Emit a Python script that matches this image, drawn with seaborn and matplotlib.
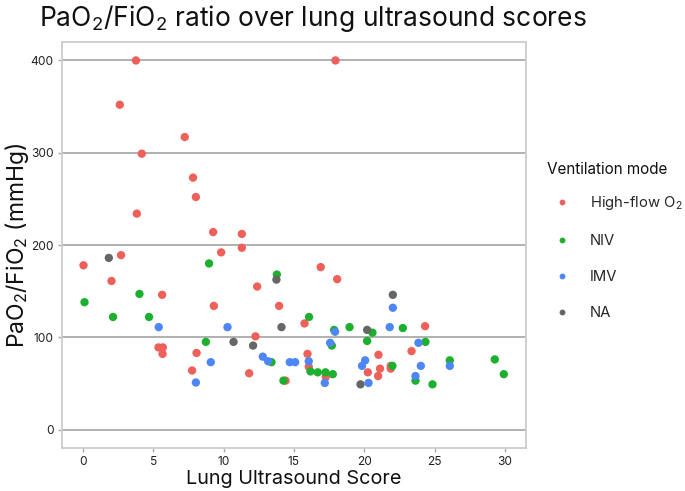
import matplotlib
matplotlib.use("Agg")
import matplotlib.pyplot as plt
from matplotlib.lines import Line2D
import seaborn as sns
import pandas as pd

# ---- data ----
hf_x = [3.76, 2.61, 7.23, 4.17, 7.82, 17.95, 8.02, 3.82, 9.25, 9.82, 2.70, 0.03, 2.02, 5.62,
        9.30, 11.29, 11.29, 16.9, 18.07, 12.38, 13.94, 5.36, 5.67, 5.65, 8.07, 7.75, 15.75,
        12.26, 15.96, 16.05, 17.26, 11.81, 14.4, 20.25, 24.32, 23.36, 21.01, 21.12, 20.98,
        21.88, 21.88]
hf_y = [400, 352, 317, 299, 273, 400, 252, 234, 214, 192, 189, 178, 161, 146,
        134, 212, 197, 176, 163, 155, 134, 89, 89, 82, 83, 64, 115,
        101, 82, 68, 57, 61, 53, 62, 112, 85, 81, 66, 58,
        69, 66]

niv_x = [8.96, 4.01, 0.1, 13.78, 2.13, 4.69, 8.73, 16.07, 18.95, 17.85, 17.69, 20.2, 13.4,
         16.17, 16.69, 17.24, 17.76, 14.25, 22.74, 20.58, 24.35, 22.0, 23.64, 24.85, 26.08,
         29.28, 29.92]
niv_y = [180, 147, 138, 168, 122, 122, 95, 122, 111, 108, 91, 96, 73,
         63, 62, 62, 60, 53, 110, 105, 95, 69, 53, 49, 75,
         76, 60]

imv_x = [22.03, 5.38, 10.27, 9.08, 8.02, 17.92, 17.57, 12.78, 13.16, 14.7, 15.08, 16.05,
         17.19, 20.06, 19.84, 20.3, 21.81, 23.85, 24.02, 23.64, 26.08]
imv_y = [132, 111, 111, 73, 51, 106, 94, 79, 74, 73, 73, 74,
         50.5, 75, 69, 50.5, 111, 94, 69, 58, 69]

na_x = [1.83, 13.75, 22.03, 14.11, 20.2, 10.7, 12.09, 19.73]
na_y = [186, 162.5, 146, 111, 108, 95, 91, 49]

modes = ["High-flow O$_2$", "NIV", "IMV", "NA"]
colors = ["#F0605A", "#1DB02E", "#4D86F5", "#666666"]

x_ticks = [0, 5, 10, 15, 20, 25, 30]
y_ticks = [0, 100, 200, 300, 400]

df = pd.DataFrame({
    "lus": hf_x + niv_x + imv_x + na_x,
    "pf": hf_y + niv_y + imv_y + na_y,
    "mode": [modes[0]] * len(hf_x) + [modes[1]] * len(niv_x)
            + [modes[2]] * len(imv_x) + [modes[3]] * len(na_x),
})

sns.set_theme(style="white")
plt.rcParams["font.family"] = ["Inter", "DejaVu Sans"]
plt.rcParams["mathtext.fontset"] = "custom"
plt.rcParams["mathtext.rm"] = "Inter"
plt.rcParams["mathtext.it"] = "Inter"
plt.rcParams["mathtext.bf"] = "Inter"

fig = plt.figure(figsize=(6.85, 4.91), dpi=100)
ax = fig.add_axes([62 / 685, 1 - 448 / 491, (526 - 62) / 685, (448 - 42) / 491])

palette = dict(zip(modes, colors))
sns.scatterplot(data=df, x="lus", y="pf", hue="mode", hue_order=modes, palette=palette,
                s=36, linewidth=0, edgecolor="none", legend=False, ax=ax, zorder=3)

ax.set_xlim(-1.5, 31.5)
ax.set_ylim(-20, 420)
ax.set_xticks(x_ticks)
ax.set_yticks(y_ticks)
ax.yaxis.grid(True, color="#AAAAAA", linewidth=1.3, zorder=0)
ax.xaxis.grid(False)
ax.set_axisbelow(True)
for sp in ax.spines.values():
    sp.set_color("#CCCCCC")
    sp.set_linewidth(1.3)
ax.tick_params(axis="both", which="major", length=3, width=1, color="#AAAAAA",
               labelsize=8.6, labelcolor="#222222", pad=3)
ax.tick_params(axis="x", bottom=True)
ax.tick_params(axis="y", left=True)

ax.set_xlabel("Lung Ultrasound Score", fontsize=14.3, color="#111111", labelpad=1)
ax.set_ylabel("PaO$_2$/FiO$_2$ (mmHg)", fontsize=16.5, color="#111111")
ax.yaxis.set_label_coords(-0.066, 0.5)

fig.text(39 / 685, 1 - 26 / 491, "PaO$_2$/FiO$_2$ ratio over lung ultrasound scores",
         fontsize=19, color="#111111", ha="left", va="baseline")

fig.text(547 / 685, 1 - 170 / 491, "Ventilation mode", fontsize=11, color="#111111",
         ha="left", va="center")

handles = [Line2D([0], [0], marker="o", linestyle="", markersize=4.2,
                  markerfacecolor=c, markeredgewidth=0) for c in colors]
leg = fig.legend(handles, modes, loc="upper left",
                 bbox_to_anchor=(553 / 685, 1 - 194.5 / 491), frameon=False,
                 fontsize=10.7, labelspacing=1.48, handletextpad=1.3,
                 handlelength=1.2, borderpad=0, borderaxespad=0)

fig.savefig("out.png", dpi=100)
